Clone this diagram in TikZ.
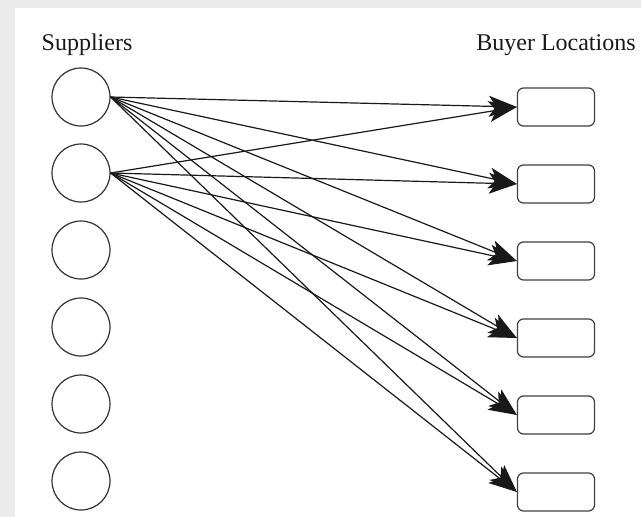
\documentclass[tikz,border=0pt]{standalone}
\usepackage{fontspec}
\setmainfont{Liberation Serif}
\usetikzlibrary{arrows.meta}
\begin{document}
\begin{tikzpicture}[x=1pt,y=-1pt,
  sup/.style={draw=black!80,line width=1.2pt,circle,minimum size=58pt,inner sep=0pt},
  buy/.style={draw=black!75,line width=1.2pt,rounded corners=6pt,minimum width=77pt,minimum height=38pt,inner sep=0pt},
  lbl/.style={font=\fontsize{24}{28}\selectfont,text=black!90,inner sep=0pt},
  link/.style={draw=black!90,line width=1.2pt,-{Stealth[length=28pt,width=21pt,inset=7pt]}}]
\useasboundingbox (0,0) rectangle (641,517);
\fill[black!8] (0,0) rectangle (641,517);
\fill[white] (15,8) rectangle (641,517);
\node[lbl] (lsup) at (87,45) {Suppliers};
\node[lbl] (lbuy) at (556,45) {Buyer Locations};
\foreach \i/\y in {1/97,2/173,3/250,4/327,5/404,6/481}{
  \node[sup] (s\i) at (81,\y) {};
}
\foreach \i/\y in {1/107,2/184,3/261,4/338,5/415,6/492}{
  \node[buy] (b\i) at (556,\y) {};
}
\foreach \s in {1,2}{
  \foreach \b in {1,...,6}{
    \draw[link] (s\s.east) -- (b\b.west);
  }
}
\end{tikzpicture}
\end{document}
